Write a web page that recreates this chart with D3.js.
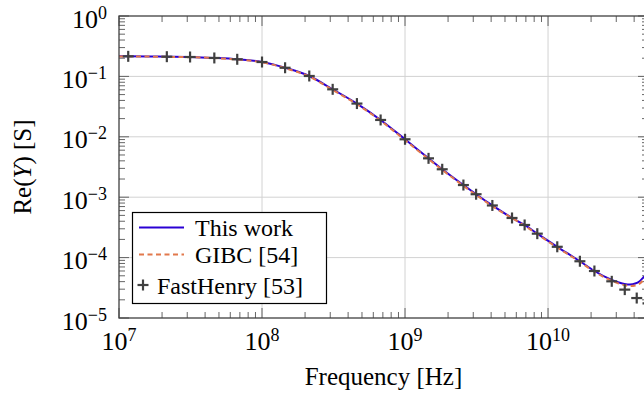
<!DOCTYPE html>
<html>
<head>
<meta charset="utf-8">
<script src="https://cdn.jsdelivr.net/npm/d3@7"></script>
<style>
  html, body { margin: 0; padding: 0; background: #fff; }
</style>
</head>
<body>
<svg id="re-y-chart" font-family="'Liberation Serif', 'Times New Roman', Tinos, 'DejaVu Serif', serif"></svg>
<script>
// frequencies in Hz, Re(Y) in S
var thisWorkFreq = [1e7, 1.16e7, 2.16e7, 3.14e7, 4.64e7, 6.71e7, 1.0e8, 1.45e8, 2.14e8, 3.12e8, 4.61e8, 6.75e8,
  1.0e9, 1.46e9, 1.82e9, 2.56e9, 3.14e9, 4.08e9, 5.6e9, 6.86e9, 8.41e9, 1.16e10, 1.67e10, 2.11e10,
  2.79e10, 3.09e10, 3.42e10, 3.74e10, 4.07e10, 4.37e10, 4.68e10, 5.0e10];
var thisWorkVal = [0.215, 0.215, 0.212, 0.2095, 0.202, 0.192, 0.173, 0.139, 0.1016, 0.0611, 0.0355, 0.019,
  0.0091, 0.0044, 0.0029, 0.00159, 0.00112, 0.00073, 0.000453, 0.000347, 0.000249, 0.000151, 8.7e-5, 6.0e-5,
  4.27e-5, 3.9e-5, 3.67e-5, 3.59e-5, 3.72e-5, 4.07e-5, 4.79e-5, 5.6e-5];

var gibcFreq = [1e7, 2.16e7, 4.64e7, 1.0e8, 1.45e8, 2.14e8, 3.12e8, 4.61e8, 6.75e8,
  1.0e9, 1.46e9, 2.56e9, 4.08e9, 6.86e9, 1.16e10, 1.67e10, 2.11e10,
  2.79e10, 3.09e10, 3.42e10, 3.74e10, 4.07e10, 4.37e10, 4.68e10, 5.0e10];
var gibcVal = [0.214, 0.211, 0.201, 0.171, 0.137, 0.0995, 0.0598, 0.0346, 0.0185,
  0.0088, 0.00428, 0.00154, 0.00071, 0.000337, 0.000147, 8.5e-5, 5.85e-5,
  4.12e-5, 3.75e-5, 3.5e-5, 3.38e-5, 3.45e-5, 3.7e-5, 4.3e-5, 5.0e-5];

var fastHenryFreq = [1.16e7, 2.16e7, 3.14e7, 4.64e7, 6.71e7, 1.0e8, 1.45e8, 2.14e8, 3.12e8, 4.61e8, 6.75e8,
  1.0e9, 1.46e9, 1.82e9, 2.56e9, 3.14e9, 4.08e9, 5.6e9, 6.86e9, 8.41e9, 1.16e10, 1.67e10, 2.11e10,
  2.79e10, 3.44e10, 4.17e10, 5.0e10];
var fastHenryVal = [0.215, 0.212, 0.2095, 0.202, 0.192, 0.173, 0.139, 0.1016, 0.0611, 0.0355, 0.019,
  0.0091, 0.0044, 0.0029, 0.00159, 0.00112, 0.00073, 0.000453, 0.000347, 0.000249, 0.000151, 8.7e-5, 6.0e-5,
  4.05e-5, 2.95e-5, 2.14e-5, 1.74e-5];

var xTickExp = [7, 8, 9, 10];
var yTickExp = [0, -1, -2, -3, -4, -5];
var legendLabels = ['This work', 'GIBC [54]', 'FastHenry [53]'];

var width = 644, height = 396;
var plot = { left: 119, right: 648, top: 16, bottom: 318 };
var blue = '#2a00d4', orange = '#e2794c', markGray = '#404040', axisGray = '#404040';

function buildChart() {
  var svg = d3.select('#re-y-chart')
    .attr('width', width)
    .attr('height', height);

  var x = d3.scaleLog().domain([1e7, 5e10]).range([plot.left, plot.right]);
  var y = d3.scaleLog().domain([1e-5, 1]).range([plot.bottom, plot.top]);

  svg.append('defs').append('clipPath').attr('id', 'plot-clip')
    .append('rect')
    .attr('x', plot.left).attr('y', plot.top)
    .attr('width', plot.right - plot.left).attr('height', plot.bottom - plot.top);

  var majorX = xTickExp.map(function (e) { return Math.pow(10, e); });
  var majorY = yTickExp.map(function (e) { return Math.pow(10, e); });
  var minorX = [], minorY = [];
  for (var e = 7; e <= 10; e++) {
    for (var m = 2; m <= 9; m++) {
      var v = m * Math.pow(10, e);
      if (v < 5e10) minorX.push(v);
    }
  }
  for (var e2 = -5; e2 < 0; e2++) {
    for (var m2 = 2; m2 <= 9; m2++) minorY.push(m2 * Math.pow(10, e2));
  }

  // major grid
  var grid = svg.append('g').attr('stroke', '#d2d2d2').attr('stroke-width', 1);
  grid.selectAll('.gx').data(majorX.slice(1)).enter().append('line')
    .attr('x1', function (d) { return x(d); }).attr('x2', function (d) { return x(d); })
    .attr('y1', plot.top).attr('y2', plot.bottom);
  grid.selectAll('.gy').data(majorY.slice(1, -1)).enter().append('line')
    .attr('x1', plot.left).attr('x2', plot.right)
    .attr('y1', function (d) { return y(d); }).attr('y2', function (d) { return y(d); });

  // ticks on all four sides, pointing inward
  var ticks = svg.append('g').attr('stroke', '#555').attr('stroke-width', 0.9);
  function xTicks(data, len) {
    data.forEach(function (d) {
      ticks.append('line').attr('x1', x(d)).attr('x2', x(d)).attr('y1', plot.bottom).attr('y2', plot.bottom - len);
      ticks.append('line').attr('x1', x(d)).attr('x2', x(d)).attr('y1', plot.top).attr('y2', plot.top + len);
    });
  }
  function yTicks(data, len) {
    data.forEach(function (d) {
      ticks.append('line').attr('x1', plot.left).attr('x2', plot.left + len).attr('y1', y(d)).attr('y2', y(d));
      ticks.append('line').attr('x1', plot.right).attr('x2', plot.right - len).attr('y1', y(d)).attr('y2', y(d));
    });
  }
  xTicks(minorX, 6);
  yTicks(minorY, 6);
  xTicks(majorX, 10);
  yTicks(majorY, 10);

  // curves
  var line = d3.line()
    .x(function (d) { return x(d[0]); })
    .y(function (d) { return y(d[1]); })
    .curve(d3.curveMonotoneX);

  var curves = svg.append('g').attr('clip-path', 'url(#plot-clip)');
  curves.append('path')
    .datum(d3.zip(thisWorkFreq, thisWorkVal))
    .attr('d', line)
    .attr('fill', 'none').attr('stroke', blue).attr('stroke-width', 2);
  curves.append('path')
    .datum(d3.zip(gibcFreq, gibcVal))
    .attr('d', line)
    .attr('fill', 'none').attr('stroke', orange).attr('stroke-width', 2)
    .attr('stroke-dasharray', '5,3.5');

  // FastHenry markers (not clipped)
  var plus = function (sel, s) {
    sel.append('line').attr('x1', -s).attr('x2', s).attr('y1', 0).attr('y2', 0);
    sel.append('line').attr('x1', 0).attr('x2', 0).attr('y1', -s).attr('y2', s);
  };
  svg.selectAll('.fh-mark')
    .data(d3.zip(fastHenryFreq, fastHenryVal))
    .enter()
    .append('g')
    .attr('class', 'fh-mark')
    .attr('transform', function (d) { return 'translate(' + x(d[0]) + ',' + y(d[1]) + ')'; })
    .attr('stroke', markGray).attr('stroke-width', 2.2)
    .each(function () { plus(d3.select(this), 5.5); });

  // axis frame
  svg.append('rect')
    .attr('x', plot.left).attr('y', plot.top)
    .attr('width', plot.right - plot.left).attr('height', plot.bottom - plot.top)
    .attr('fill', 'none').attr('stroke', axisGray).attr('stroke-width', 1.3);

  // tick labels
  var xl = svg.selectAll('.xlab').data(xTickExp).enter().append('text')
    .attr('class', 'xlab')
    .attr('x', function (d) { return x(Math.pow(10, d)); })
    .attr('y', plot.bottom + 32)
    .attr('text-anchor', 'middle')
    .attr('font-size', 26);
  xl.append('tspan').text('10');
  xl.append('tspan').attr('dy', -9).attr('font-size', 18).text(function (d) { return d; });

  var yl = svg.selectAll('.ylab').data(yTickExp).enter().append('text')
    .attr('class', 'ylab')
    .attr('x', 107)
    .attr('y', function (d) { return y(Math.pow(10, d)) + 11.5; })
    .attr('text-anchor', 'end')
    .attr('font-size', 26);
  yl.append('tspan').text('10');
  yl.append('tspan').attr('dy', -9).attr('font-size', 18)
    .text(function (d) { return d < 0 ? '\u2212' + (-d) : d; });

  // axis titles
  svg.append('text')
    .attr('x', (plot.left + plot.right) / 2)
    .attr('y', 385)
    .attr('text-anchor', 'middle')
    .attr('font-size', 25)
    .text('Frequency [Hz]');

  var yt = svg.append('text')
    .attr('transform', 'translate(31,' + ((plot.top + plot.bottom) / 2) + ') rotate(-90)')
    .attr('text-anchor', 'middle')
    .attr('font-size', 25);
  yt.append('tspan').text('Re(');
  yt.append('tspan').attr('font-style', 'italic').text('Y');
  yt.append('tspan').text(') [S]');

  // legend
  var lg = svg.append('g');
  lg.append('rect')
    .attr('x', 132.5).attr('y', 212.5).attr('width', 194).attr('height', 91)
    .attr('fill', '#fff').attr('stroke', '#000').attr('stroke-width', 1.2);
  var rowY = [227.5, 254.5, 285];
  lg.append('line').attr('x1', 139).attr('x2', 184).attr('y1', rowY[0]).attr('y2', rowY[0])
    .attr('stroke', blue).attr('stroke-width', 2);
  lg.append('line').attr('x1', 139).attr('x2', 184).attr('y1', rowY[1]).attr('y2', rowY[1])
    .attr('stroke', orange).attr('stroke-width', 2).attr('stroke-dasharray', '5,3.5');
  lg.append('g').attr('transform', 'translate(143,' + rowY[2] + ')')
    .attr('stroke', markGray).attr('stroke-width', 2.2)
    .call(function (g) { plus(g, 5.5); });
  lg.selectAll('.legtext').data(legendLabels).enter().append('text')
    .attr('x', function (d, i) { return i === 2 ? 157 : 195; })
    .attr('y', function (d, i) { return rowY[i] + 8.5; })
    .attr('font-size', 24)
    .text(function (d) { return d; });
}

buildChart();
</script>
</body>
</html>
